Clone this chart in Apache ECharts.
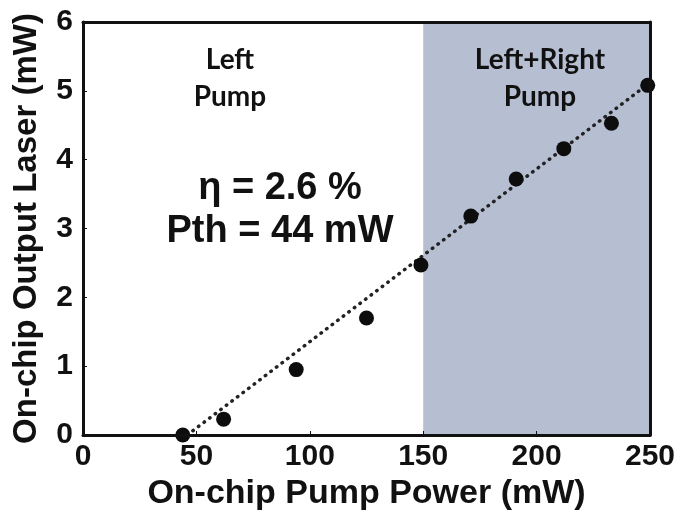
<!DOCTYPE html>
<html>
<head>
<meta charset="utf-8">
<script src="https://cdn.jsdelivr.net/npm/echarts@6/dist/echarts.min.js"></script>
<style>
  html, body { margin: 0; padding: 0; background: #fff; }
  #chart { width: 682px; height: 518px; }
</style>
</head>
<body>
<div id="chart"></div>
<script>
// measured points (on-chip pump power in mW, output laser in mW)
const pumpPower = [44, 62, 94, 125, 149, 171, 191, 212, 233, 249];
const outputLaser = [0, 0.23, 0.95, 1.70, 2.47, 3.18, 3.72, 4.16, 4.53, 5.08];

// linear fit endpoints
const fitX = [46, 250];
const fitY = [0, 5.12];

// pump regions
const regionBounds = [150, 250];

const xTicks = { min: 0, max: 250, interval: 50 };
const yTicks = { min: 0, max: 6, interval: 1 };

const font = 'Liberation Sans';
const chart = echarts.init(document.getElementById('chart'));

const boxAxis = {
  z: 10,
  axisLine: { show: true, onZero: false, lineStyle: { color: '#111', width: 3 } },
  axisTick: { show: false },
  axisLabel: { show: false },
  splitLine: { show: false }
};

chart.setOption({
  backgroundColor: '#fff',
  animation: false,
  grid: { left: 83, top: 22, right: 32, bottom: 83 },
  xAxis: [{
    type: 'value',
    z: 10,
    min: xTicks.min, max: xTicks.max, interval: xTicks.interval,
    name: 'On-chip Pump Power (mW)',
    nameLocation: 'middle',
    nameGap: 40,
    nameTextStyle: { fontFamily: font, fontWeight: 'bold', fontSize: 34, color: '#111' },
    axisLine: { onZero: false, lineStyle: { color: '#111', width: 3 } },
    axisTick: { inside: true, length: 4, lineStyle: { color: '#111', width: 1 } },
    axisLabel: { fontFamily: font, fontWeight: 'bold', fontSize: 30, color: '#111', margin: 7 },
    splitLine: { show: false }
  }, {
    type: 'value', position: 'top',
    min: xTicks.min, max: xTicks.max, interval: xTicks.interval,
    ...boxAxis
  }],
  yAxis: [{
    type: 'value',
    z: 10,
    min: yTicks.min, max: yTicks.max, interval: yTicks.interval,
    name: 'On-chip Output Laser (mW)',
    nameLocation: 'middle',
    nameGap: 40,
    nameTextStyle: { fontFamily: font, fontWeight: 'bold', fontSize: 33, color: '#111' },
    axisLine: { show: true, onZero: false, lineStyle: { color: '#111', width: 3 } },
    axisTick: { show: true, inside: true, length: 4, lineStyle: { color: '#111', width: 1 } },
    axisLabel: { fontFamily: font, fontWeight: 'bold', fontSize: 30, color: '#111', margin: 10 },
    splitLine: { show: false }
  }, {
    type: 'value', position: 'right',
    min: yTicks.min, max: yTicks.max, interval: yTicks.interval,
    ...boxAxis
  }],
  series: [{
    name: 'fit',
    type: 'line',
    data: fitX.map((x, i) => [x, fitY[i]]),
    symbol: 'none',
    lineStyle: { color: '#222', width: 3.5, type: [0.5, 6.5], cap: 'round' },
    markArea: {
      silent: true,
      itemStyle: { color: '#b6bfd2' },
      data: [[{ xAxis: regionBounds[0] }, { xAxis: regionBounds[1] }]]
    },
    z: 3
  }, {
    name: 'data',
    type: 'scatter',
    data: pumpPower.map((x, i) => [x, outputLaser[i]]),
    symbol: 'circle',
    symbolSize: 15,
    itemStyle: { color: '#0d0d0d', opacity: 1 },
    z: 4
  }],
  graphic: [
    { type: 'text', x: 230, y: 78, z: 20,
      style: { text: 'Left\nPump', fontFamily: 'Lato', fontWeight: 'bold', fontSize: 28, lineHeight: 37, align: 'center', verticalAlign: 'middle', fill: '#111' } },
    { type: 'text', x: 540, y: 78, z: 20,
      style: { text: 'Left+Right\nPump', fontFamily: 'Lato', fontWeight: 'bold', fontSize: 28, lineHeight: 37, align: 'center', verticalAlign: 'middle', fill: '#111' } },
    { type: 'text', x: 280, y: 210, z: 20,
      style: { text: 'η = 2.6 %\nPth = 44 mW', fontFamily: font, fontWeight: 'bold', fontSize: 38, lineHeight: 43, align: 'center', verticalAlign: 'middle', fill: '#111' } }
  ]
});
</script>
</body>
</html>
